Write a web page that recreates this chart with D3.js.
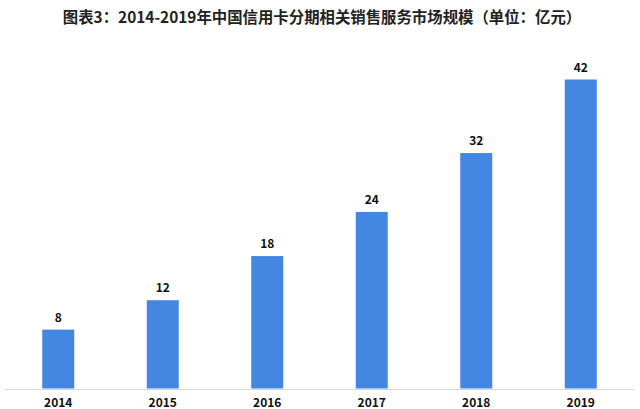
<!DOCTYPE html>
<html><head><meta charset="utf-8">
<script src="https://cdn.jsdelivr.net/npm/d3@7"></script>
<style>body{margin:0;background:#fff}svg{display:block}</style>
</head><body>
<script>
const years = ["2014","2015","2016","2017","2018","2019"];
const values = [8,12,18,24,32,42];
const title = "图表3：2014-2019年中国信用卡分期相关销售服务市场规模（单位：亿元）";

const W = 640, H = 409;
const svg = d3.select("body").append("svg").attr("width", W).attr("height", H);
const font = "'Noto Sans CJK SC','Noto Sans',sans-serif";

svg.append("text").attr("x", 322).attr("y", 23).attr("text-anchor", "middle")
  .attr("font-family", font).attr("font-weight", "bold").attr("font-size", 15.4)
  .attr("fill", "#222").text(title);

const x = d3.scaleBand().domain(years).range([6, 633]).paddingInner(0.694).paddingOuter(0.347);
const y = d3.scaleLinear().domain([0, 42]).range([388.5, 79.5]);

svg.append("line").attr("x1", 5).attr("x2", 634).attr("y1", 389.5).attr("y2", 389.5)
  .attr("stroke", "#d9d9d9").attr("stroke-width", 1);

svg.selectAll("rect.bar").data(values).join("rect").attr("class", "bar")
  .attr("x", (d, i) => x(years[i])).attr("width", x.bandwidth())
  .attr("y", d => y(d)).attr("height", d => y(0) - y(d))
  .attr("fill", "#4287e2");

svg.selectAll("text.val").data(values).join("text").attr("class", "val")
  .attr("x", (d, i) => x(years[i]) + x.bandwidth() / 2).attr("y", d => y(d) - 8)
  .attr("text-anchor", "middle").attr("font-family", font).attr("font-weight", "bold")
  .attr("font-size", 12).attr("fill", "#111").text(d => d);

const axis = d3.axisBottom(x).tickSize(0).tickPadding(0);
const g = svg.append("g").attr("transform", "translate(0,398)").call(axis);
g.select(".domain").remove();
g.selectAll("text").attr("font-family", font).attr("font-weight", "bold")
  .attr("font-size", 12).attr("fill", "#111").attr("dy", "0.71em");
</script>
</body></html>
